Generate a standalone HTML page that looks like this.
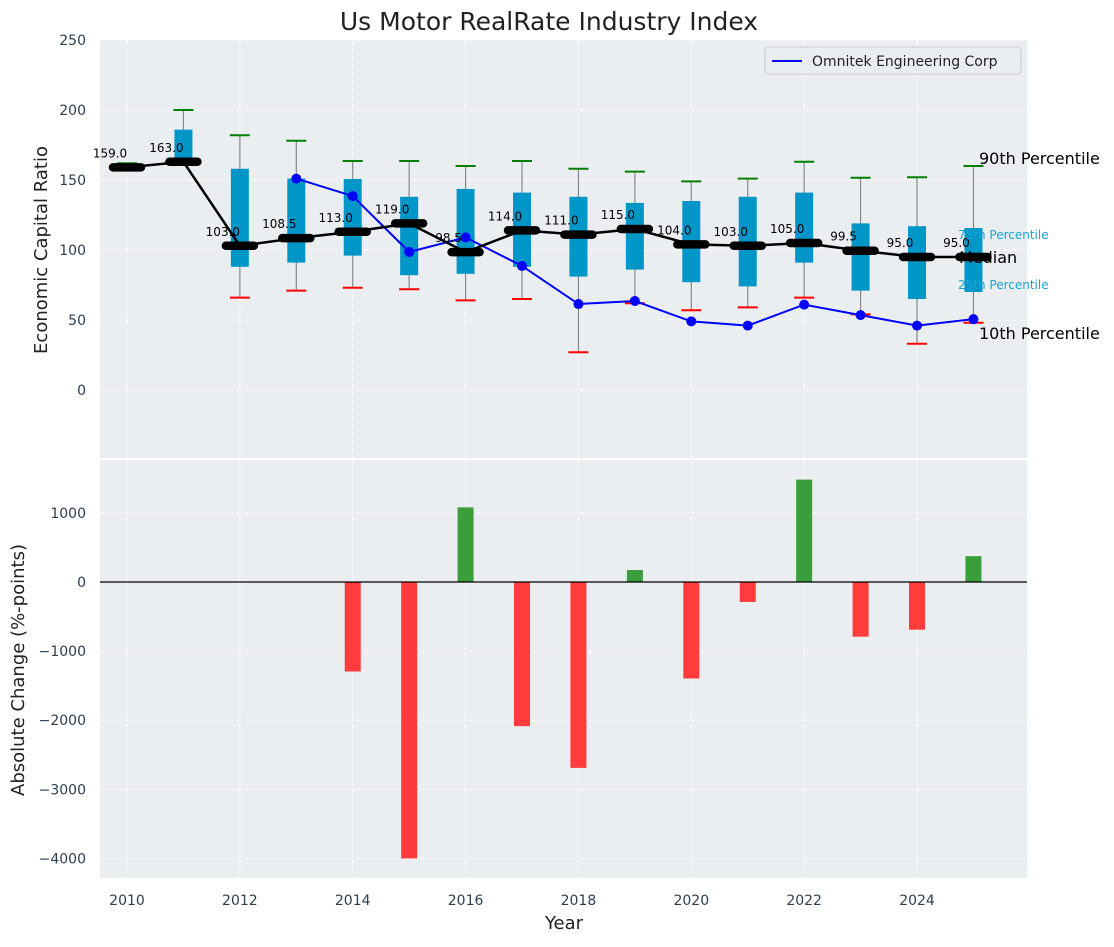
<!DOCTYPE html>
<html><head><meta charset="utf-8">
<style>
body{margin:0;background:#fff;font-family:"Liberation Sans","DejaVu Sans",sans-serif;}
svg text{font-family:"DejaVu Sans","Liberation Sans",sans-serif;}
</style></head>
<body>
<svg id="c" width="1114" height="942" xmlns="http://www.w3.org/2000/svg"></svg>
<script>
const years=[2010,2011,2012,2013,2014,2015,2016,2017,2018,2019,2020,2021,2022,2023,2024,2025];
const medians=[159,163,103,108.5,113,119,98.5,114,111,115,104,103,105,99.5,95,95];
const p25=[159,163,88,91,96,82,83,88,81,86,77,74,91,71,65,70];
const p75=[161,186,158,151,150.7,138,143.6,141,138,133.6,135,138,141,119,117,115.7];
const p10=[158,163,66,71,73,72,64,65,27,62,57,59,66,54,33,48];
const p90=[162,200,182,178,163.6,163.6,160,163.6,158,156,149,151,163,151.6,152,160];
const omniYears=[2013,2014,2015,2016,2017,2018,2019,2020,2021,2022,2023,2024,2025];
const omni=[151,138.5,98.6,109,88.6,61.4,63.6,49,46,61,53.5,46,50.6];
const chgYears=[2014,2015,2016,2017,2018,2019,2020,2021,2022,2023,2024,2025];
const chg=[-1295,-4000,1080,-2086,-2690,173,-1396,-288,1482,-791,-690,374];
const yTicksTop=[0,50,100,150,200,250];
const yTicksBot=[-4000,-3000,-2000,-1000,0,1000];
const xTicks=[2010,2012,2014,2016,2018,2020,2022,2024];

const NS="http://www.w3.org/2000/svg";
const svg=document.getElementById('c');
function mk(tag,attrs,parent){const e=document.createElementNS(NS,tag);for(const k in attrs)e.setAttribute(k,attrs[k]);(parent||svg).appendChild(e);return e;}
const X=v=>127+(v-2010)*56.43;
const Y1=v=>390-1.4*v;
const Y2=v=>582-0.0691*v;
const L=100,R=1027;

let p=mk('rect',{x:L,y:40,width:R-L,height:418,fill:'#eaeef0'});


p=mk('rect',{x:L,y:460,width:R-L,height:418,fill:'#eaeef0'});



xTicks.forEach(t=>{
  let g=mk('line',{x1:X(t),x2:X(t),y1:40,y2:458,stroke:'#fff','stroke-dasharray':'5,3','stroke-width':1});
  
  g=mk('line',{x1:X(t),x2:X(t),y1:460,y2:878,stroke:'#fff','stroke-dasharray':'5,3','stroke-width':1});
  
  let tx=mk('text',{x:X(t),y:905,'text-anchor':'middle','font-size':14,fill:'#2e3e50'});tx.textContent=t;
  
});
yTicksTop.forEach(t=>{
  let g=mk('line',{x1:L,x2:R,y1:Y1(t),y2:Y1(t),stroke:'#fff','stroke-dasharray':'5,3','stroke-width':1});
  
  let tx=mk('text',{x:86,y:Y1(t)+5,'text-anchor':'end','font-size':14,fill:'#2e3e50'});tx.textContent=t;
  
});
yTicksBot.forEach(t=>{
  let g=mk('line',{x1:L,x2:R,y1:Y2(t),y2:Y2(t),stroke:'#fff','stroke-dasharray':'5,3','stroke-width':1});
  
  let tx=mk('text',{x:86,y:Y2(t)+5,'text-anchor':'end','font-size':14,fill:'#2e3e50'});tx.textContent=t===0?'0':String(t).replace('-','\u2212');
  
});

years.forEach((yr,i)=>{
  const x=X(yr);
  let w=mk('line',{x1:x,x2:x,y1:Y1(p90[i]),y2:Y1(p10[i]),stroke:'#888','stroke-width':1.2});
  
  let b=mk('rect',{x:x-9,y:Y1(p75[i]),width:18,height:Math.max(0,Y1(p25[i])-Y1(p75[i])),fill:'#0096c7'});
  
  let c=mk('line',{x1:x-10,x2:x+10,y1:Y1(p90[i]),y2:Y1(p90[i]),stroke:'green','stroke-width':2});
  
  c=mk('line',{x1:x-10,x2:x+10,y1:Y1(p10[i]),y2:Y1(p10[i]),stroke:'red','stroke-width':2});
  
});
let op=mk('polyline',{points:omniYears.map((y,i)=>X(y)+','+Y1(omni[i])).join(' '),fill:'none',stroke:'blue','stroke-width':2});

omniYears.forEach((y,i)=>{
  let d=mk('circle',{cx:X(y),cy:Y1(omni[i]),r:5,fill:'blue'});
  
});
let ml=mk('polyline',{points:years.map((y,i)=>X(y)+','+Y1(medians[i])).join(' '),fill:'none',stroke:'#000','stroke-width':2.5});

years.forEach((yr,i)=>{
  const x=X(yr),y=Y1(medians[i]);
  let m=mk('line',{x1:x-14,x2:x+14,y1:y,y2:y,stroke:'#000','stroke-width':8.5,'stroke-linecap':'round'});
  
  let t=mk('text',{x:x-17,y:y-10,'text-anchor':'middle','font-size':12,fill:'#000'});t.textContent=medians[i].toFixed(1);
  
});
function lab(txt,x,y,size,col,name){let t=mk('text',{x:x,y:y,'font-size':size,fill:col});t.textContent=txt;}
lab('90th Percentile',979,164,16,'#000','p90-label');
lab('10th Percentile',979,339,16,'#000','p10-label');
lab('75th Percentile',958,239,12,'#1aa3d4','p75-label');
lab('25th Percentile',958,289,12,'#1aa3d4','p25-label');
lab('Median',959,263,16,'#000','median-label');

let lg=mk('rect',{x:765,y:47,width:256,height:27,fill:'#eaeef0',stroke:'#ccc',rx:3});

let ll=mk('line',{x1:772,x2:802,y1:61,y2:61,stroke:'blue','stroke-width':2});

lab('Omnitek Engineering Corp',812,66,14,'#222','legend-entry');

chgYears.forEach((yr,i)=>{
  const v=chg[i];const y0=Y2(0),y1=Y2(v);
  let b=mk('rect',{x:X(yr)-8,y:Math.min(y0,y1),width:16,height:Math.abs(y1-y0),fill:v>=0?'#3a9e3a':'#ff3b3b'});
  
});
let z=mk('line',{x1:L,x2:R,y1:Y2(0),y2:Y2(0),stroke:'#000','stroke-width':1.2});


let t=mk('text',{x:549,y:30,'text-anchor':'middle','font-size':25,fill:'#222'});t.textContent='Us Motor RealRate Industry Index';

t=mk('text',{x:564,y:929,'text-anchor':'middle','font-size':18,fill:'#222'});t.textContent='Year';

t=mk('text',{x:0,y:0,'text-anchor':'middle','font-size':18,fill:'#222',transform:'translate(47,250) rotate(-90)'});t.textContent='Economic Capital Ratio';

t=mk('text',{x:0,y:0,'text-anchor':'middle','font-size':18,fill:'#222',transform:'translate(24,670) rotate(-90)'});t.textContent='Absolute Change (%-points)';

</script>
</body></html>
